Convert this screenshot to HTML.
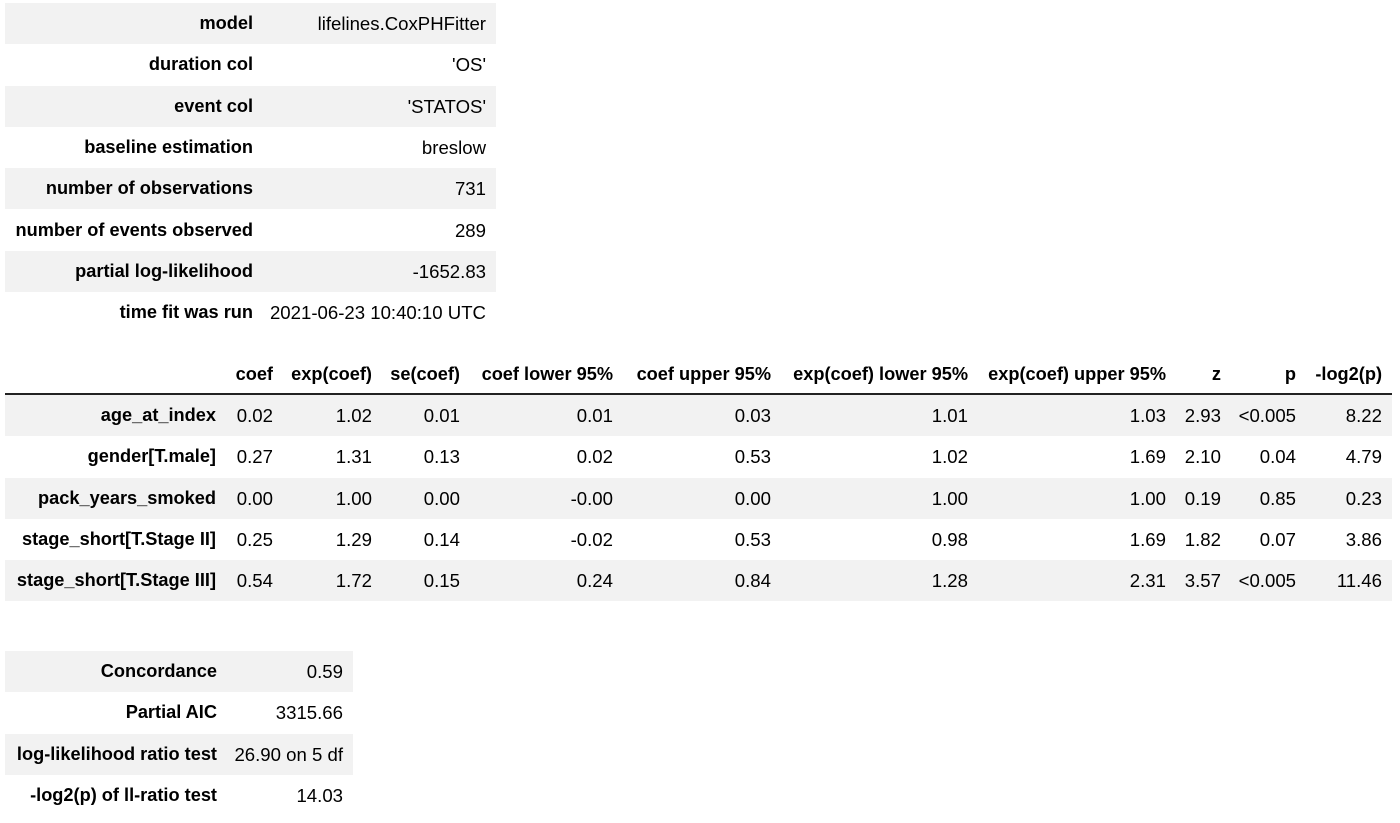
<!DOCTYPE html>
<html><head><meta charset="utf-8"><style>
body{margin:0;width:1400px;height:823px;background:#fff;font-family:"Liberation Sans",Arial,sans-serif;font-size:18.6px;color:#000;position:relative;overflow:hidden}
.row{position:absolute;height:41px}
.row.s{background:#f2f2f2}
.c{position:absolute;top:0;line-height:41px;white-space:nowrap;text-align:right}
.b{font-weight:bold;font-size:18.2px}
.rule{position:absolute;background:#222;height:2px}
</style></head><body>
<div id="t1"></div>
<div id="t2"></div>
<div id="t3"></div>
<script>
const summaryLabels=["model","duration col","event col","baseline estimation","number of observations","number of events observed","partial log-likelihood","time fit was run"];
const summaryValues=["lifelines.CoxPHFitter","'OS'","'STATOS'","breslow","731","289","-1652.83","2021-06-23 10:40:10 UTC"];
const coefHeaders=["coef","exp(coef)","se(coef)","coef lower 95%","coef upper 95%","exp(coef) lower 95%","exp(coef) upper 95%","z","p","-log2(p)"];
const covariates=["age_at_index","gender[T.male]","pack_years_smoked","stage_short[T.Stage II]","stage_short[T.Stage III]"];
const coefValues=[
["0.02","1.02","0.01","0.01","0.03","1.01","1.03","2.93","<0.005","8.22"],
["0.27","1.31","0.13","0.02","0.53","1.02","1.69","2.10","0.04","4.79"],
["0.00","1.00","0.00","-0.00","0.00","1.00","1.00","0.19","0.85","0.23"],
["0.25","1.29","0.14","-0.02","0.53","0.98","1.69","1.82","0.07","3.86"],
["0.54","1.72","0.15","0.24","0.84","1.28","2.31","3.57","<0.005","11.46"]];
const statLabels=["Concordance","Partial AIC","log-likelihood ratio test","-log2(p) of ll-ratio test"];
const statValues=["0.59","3315.66","26.90 on 5 df","14.03"];

function cell(parent,text,right,bold,name){
  const d=document.createElement('div');
  d.className='c'+(bold?' b':'');
  d.style.right=right+'px';
  d.textContent=text;
  
  
  parent.appendChild(d);
}
function row(container,top,left,width,shaded,name){
  const r=document.createElement('div');
  r.className='row'+(shaded?' s':'');
  r.style.top=top+'px';r.style.left=left+'px';r.style.width=width+'px';
  
  
  container.appendChild(r);return r;
}
const t1=document.getElementById('t1');
summaryLabels.forEach((l,i)=>{
  const r=row(t1,3+i*41.3,5,491,i%2===0&&i<7,'summary-row');
  cell(r,l,491-248,true,'summary-label');
  cell(r,summaryValues[i],10,false,'summary-value');
});
const t2=document.getElementById('t2');
const colRight=[273,372,460,613,771,968,1166,1221,1296,1382];
const hdr=row(t2,354,5,1387,false,'header-row');
coefHeaders.forEach((h,j)=>cell(hdr,h,1392-colRight[j],true,'column-header'));
const rl=document.createElement('div');rl.className='rule';
rl.style.left='5px';rl.style.top='393px';rl.style.width='1387px';


t2.appendChild(rl);
covariates.forEach((c,i)=>{
  const r=row(t2,395+i*41.3,5,1387,i%2===0,'covariate-row');
  cell(r,c,1392-216,true,'covariate-label');
  coefValues[i].forEach((v,j)=>cell(r,v,1392-colRight[j],false,'coef-value'));
});
const t3=document.getElementById('t3');
statLabels.forEach((l,i)=>{
  const r=row(t3,651+i*41.3,5,348,i%2===0,'stat-row');
  cell(r,l,353-217,true,'stat-label');
  cell(r,statValues[i],10,false,'stat-value');
});
</script>
</body></html>
